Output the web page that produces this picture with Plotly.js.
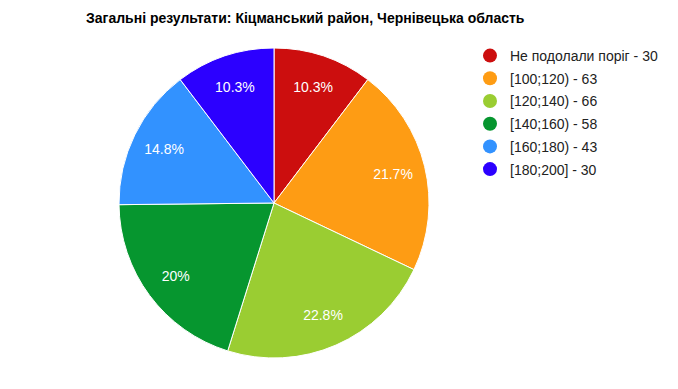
<!DOCTYPE html>
<html><head><meta charset="utf-8">
<script src="https://cdn.plot.ly/plotly-3.0.1.min.js"></script>
<style>html,body{margin:0;padding:0;background:#fff}</style>
</head><body>
<div id="chart" style="width:678px;height:389px"></div>
<script>
const categories = ["Не подолали поріг", "[100;120)", "[120;140)", "[140;160)", "[160;180)", "[180;200]"];
const counts = [30, 63, 66, 58, 43, 30];
const colors = ["#cc0e0e", "#fe9c14", "#9acd32", "#06962f", "#3292ff", "#2c00ff"];
const chartTitle = "Загальні результати: Кіцманський район, Чернівецька область";

const font = "Arial, 'Liberation Sans', sans-serif";
const pieDomain = {x: [119/678, 429/678], y: [1 - 358/389, 1 - 48/389]};
const common = {
  type: "pie", labels: categories, values: counts, sort: false,
  direction: "clockwise", rotation: 0, domain: pieDomain,
  showlegend: false, hoverinfo: "label+value+percent"
};
const traces = [
  Object.assign({}, common, {
    textinfo: "none",
    marker: {colors: colors, line: {color: "#ffffff", width: 1}}
  }),
  Object.assign({}, common, {
    hole: 0.58,
    marker: {colors: categories.map(() => "rgba(0,0,0,0)"), line: {width: 0}},
    textinfo: "percent", textposition: "inside", insidetextorientation: "horizontal",
    textfont: {family: font, size: 14, color: "#ffffff"}
  })
];
categories.forEach((c, i) => {
  traces.push({
    type: "scatter", mode: "markers", x: [null], y: [null],
    name: c + " - " + counts[i], legendgroup: "g" + i,
    marker: {color: colors[i], size: 14, symbol: "circle"},
    showlegend: true, hoverinfo: "skip"
  });
});
const layout = {
  width: 678, height: 389,
  margin: {l: 0, r: 0, t: 0, b: 0},
  paper_bgcolor: "#ffffff", plot_bgcolor: "rgba(0,0,0,0)",
  title: {text: "<b>" + chartTitle + "</b>", x: 86/678, xanchor: "left", xref: "paper",
          y: 1 - 18/389, yanchor: "middle", font: {family: font, size: 14, color: "#000000"}},
  xaxis: {visible: false}, yaxis: {visible: false},
  legend: {x: 470/678, xanchor: "left", y: 1 - 40/389, yanchor: "top",
           font: {family: font, size: 14, color: "#222222"},
           traceorder: "grouped", tracegroupgap: 1.5, itemclick: false, itemdoubleclick: false,
           bgcolor: "rgba(0,0,0,0)"},
  showlegend: true
};
Plotly.newPlot("chart", traces, layout, {displayModeBar: false, staticPlot: true});
</script>
</body></html>
